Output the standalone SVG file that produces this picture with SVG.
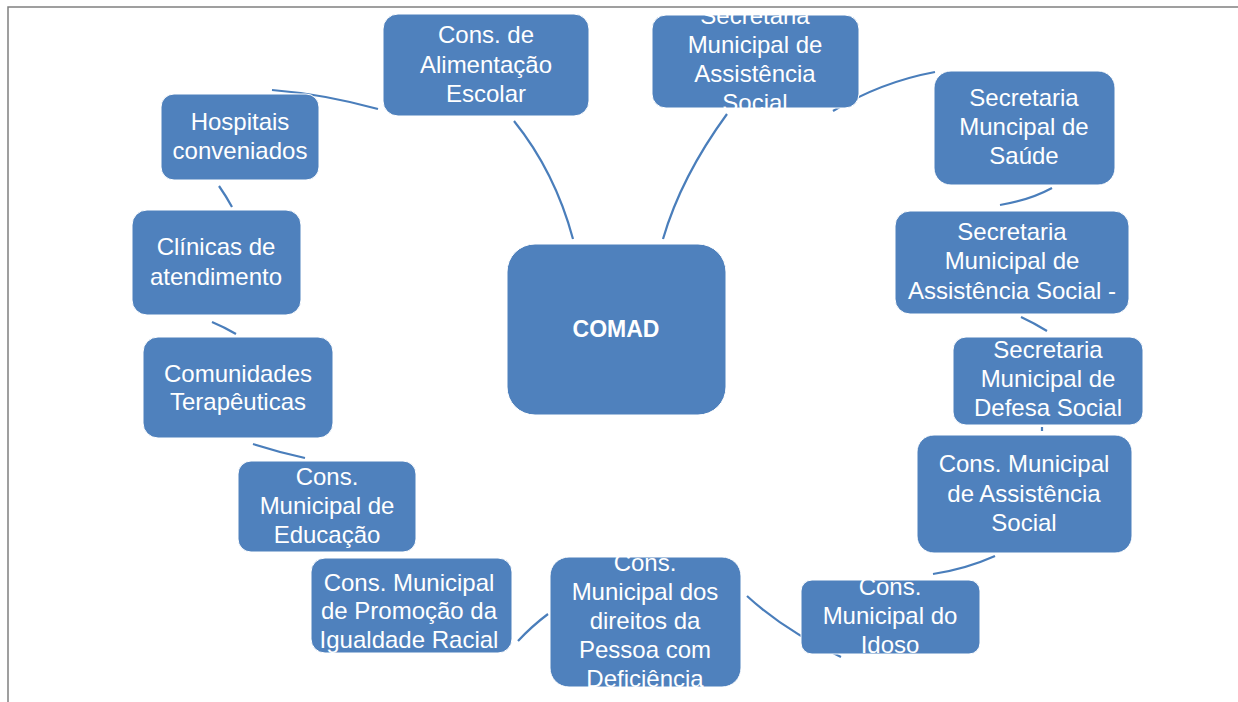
<svg xmlns="http://www.w3.org/2000/svg" width="1238" height="702" viewBox="0 0 1238 702">
<style>
.box{fill:#4f81bd;stroke:#ffffff;stroke-width:1}
.t{font-family:"Liberation Sans",Arial,sans-serif;font-size:24px;fill:#ffffff;text-anchor:middle}
.b{font-weight:bold;font-size:23px}
.c{fill:none;stroke:#4a7ebb;stroke-width:2.2;stroke-linecap:butt}
.frame{fill:none;stroke:#808080;stroke-width:1.5}
</style>
<defs>
<clipPath id="cp-sat"><rect x="652" y="13" width="207" height="95"/></clipPath>
<clipPath id="cp-idoso"><rect x="801" y="580" width="179" height="74"/></clipPath>
<clipPath id="cp-def"><rect x="550" y="557" width="191" height="130"/></clipPath>
<clipPath id="cp-igual"><rect x="311" y="558" width="201" height="95"/></clipPath>
</defs>
<rect x="0" y="0" width="1238" height="702" fill="#ffffff"/>
<path class="frame" d="M8,702 L8,7 L1238,7"/>
<g id="connectors">
<path class="c" d="M272,90 Q323,94 378,109"/>
<path class="c" d="M514,121 Q555,172 573,239"/>
<path class="c" d="M663,239 Q681,177 727,114"/>
<path class="c" d="M833,111 Q881,82 935,72"/>
<path class="c" d="M1052,188 Q1030,200 1000,205"/>
<path class="c" d="M1021,317 Q1034,323 1047,331"/>
<path class="c" d="M1042,427 L1042,431"/>
<path class="c" d="M995,556 Q966,569 933,574"/>
<path class="c" d="M747,596 Q785,631 841,657"/>
<path class="c" d="M548,614 Q532,626 518,641"/>
<path class="c" d="M253,444 Q278,452 305,458"/>
<path class="c" d="M212,322 Q224,327 236,334"/>
<path class="c" d="M219,186 Q226,196 232,207"/>
</g>
<g id="node-alimentacao">
<rect class="box" x="383" y="14" width="206" height="102" rx="15"/>
<text class="t" x="486" y="43">Cons. de</text>
<text class="t" x="486" y="73">Alimentação</text>
<text class="t" x="486" y="102">Escolar</text>
</g>
<g id="node-sec-assistencia">
<rect class="box" x="652" y="15" width="207" height="93" rx="14"/>
<g clip-path="url(#cp-sat)">
<text class="t" x="755" y="24">Secretaria</text>
<text class="t" x="755" y="53">Municipal de</text>
<text class="t" x="755" y="82">Assistência</text>
<text class="t" x="755" y="111">Social</text>
</g>
</g>
<g id="node-saude">
<rect class="box" x="934" y="71" width="181" height="114" rx="17"/>
<text class="t" x="1024" y="106">Secretaria</text>
<text class="t" x="1024" y="135">Muncipal de</text>
<text class="t" x="1024" y="164">Saúde</text>
</g>
<g id="node-sec-assistencia-2">
<rect class="box" x="895" y="211" width="234" height="103" rx="15"/>
<text class="t" x="1012" y="240">Secretaria</text>
<text class="t" x="1012" y="269">Municipal de</text>
<text class="t" x="1012" y="299">Assistência Social -</text>
</g>
<g id="node-defesa">
<rect class="box" x="953" y="337" width="190" height="88" rx="13"/>
<text class="t" x="1048" y="358">Secretaria</text>
<text class="t" x="1048" y="387">Municipal de</text>
<text class="t" x="1048" y="416">Defesa Social</text>
</g>
<g id="node-cons-assistencia">
<rect class="box" x="917" y="435" width="215" height="118" rx="17"/>
<text class="t" x="1024" y="472">Cons. Municipal</text>
<text class="t" x="1024" y="502">de Assistência</text>
<text class="t" x="1024" y="531">Social</text>
</g>
<g id="node-idoso">
<rect class="box" x="801" y="580" width="179" height="74" rx="11"/>
<g clip-path="url(#cp-idoso)">
<text class="t" x="890" y="595">Cons.</text>
<text class="t" x="890" y="624">Municipal do</text>
<text class="t" x="890" y="653">Idoso</text>
</g>
</g>
<g id="node-deficiencia">
<rect class="box" x="550" y="557" width="191" height="130" rx="19"/>
<g clip-path="url(#cp-def)">
<text class="t" x="645" y="571">Cons.</text>
<text class="t" x="645" y="600">Municipal dos</text>
<text class="t" x="645" y="629">direitos da</text>
<text class="t" x="645" y="658">Pessoa com</text>
<text class="t" x="645" y="687">Deficiência</text>
</g>
</g>
<g id="node-igualdade">
<rect class="box" x="311" y="558" width="201" height="95" rx="14"/>
<g clip-path="url(#cp-igual)">
<text class="t" x="409" y="591">Cons. Municipal</text>
<text class="t" x="409" y="619">de Promoção da</text>
<text class="t" x="409" y="648">Igualdade Racial</text>
</g>
</g>
<g id="node-educacao">
<rect class="box" x="238" y="461" width="178" height="91" rx="13"/>
<text class="t" x="327" y="485">Cons.</text>
<text class="t" x="327" y="514">Municipal de</text>
<text class="t" x="327" y="543">Educação</text>
</g>
<g id="node-comunidades">
<rect class="box" x="143" y="337" width="190" height="101" rx="15"/>
<text class="t" x="238" y="382">Comunidades</text>
<text class="t" x="238" y="410">Terapêuticas</text>
</g>
<g id="node-clinicas">
<rect class="box" x="132" y="210" width="169" height="105" rx="15"/>
<text class="t" x="216" y="255">Clínicas de</text>
<text class="t" x="216" y="285">atendimento</text>
</g>
<g id="node-hospitais">
<rect class="box" x="161" y="94" width="158" height="86" rx="13"/>
<text class="t" x="240" y="130">Hospitais</text>
<text class="t" x="240" y="159">conveniados</text>
</g>
<g id="node-comad">
<rect class="box" x="507" y="244" width="219" height="171" rx="28"/>
<text class="t b" x="616" y="337">COMAD</text>
</g>
</svg>
